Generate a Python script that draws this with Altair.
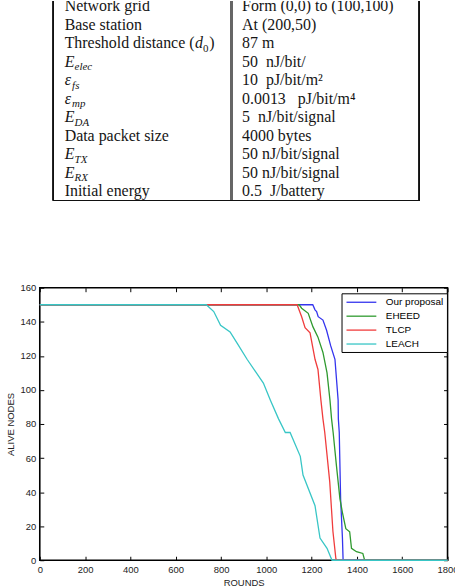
import altair as alt
import pandas as pd

# ---------------- table data ----------------
row_ids = list(range(11))
param_text = ["Network grid", "Base station", "Threshold distance (", "", "", "", "",
              "Data packet size", "", "", "Initial energy"]
param_symbol = ["", "", "", "E", "ε", "ε", "E", "", "E", "E", ""]
param_sub = ["", "", "", "elec", "fs", "mp", "DA", "", "TX", "RX", ""]
param_value = ["Form (0,0) to (100,100)", "At (200,50)", "87 m", "50\u00a0 nJ/bit/",
               "10\u00a0 pJ/bit/m\u00b2", "0.0013\u00a0\u00a0 pJ/bit/m\u2074",
               "5\u00a0 nJ/bit/signal", "4000 bytes", "50 nJ/bit/signal",
               "50 nJ/bit/signal", "0.5\u00a0 J/battery"]

# ---------------- chart data ----------------
series_names = ["Our proposal", "EHEED", "TLCP", "LEACH"]
series_colors = ["#3434ee", "#2f9a2f", "#f03c3c", "#38c6c6"]

ours_rounds = [0, 1205, 1215, 1222, 1229, 1250, 1266, 1284, 1303, 1310, 1317, 1318, 1322, 1328, 1336, 1339, 1800]
ours_alive = [150, 150, 147, 146, 143, 141, 135, 126, 118, 106, 94, 83, 75, 36, 13, 0, 0]

eheed_rounds = [0, 1145, 1156, 1185, 1206, 1228, 1250, 1268, 1281, 1288, 1295, 1310, 1325, 1336, 1351, 1368, 1376, 1398, 1426, 1434, 1800]
eheed_alive = [150, 150, 148, 145, 137, 131, 122, 110, 94, 83, 75, 55, 36, 28, 18.5, 16.7, 7, 5, 4, 0, 0]

tlcp_rounds = [0, 1136, 1156, 1171, 1193, 1215, 1228, 1241, 1250, 1258, 1280, 1294, 1307, 1312, 1800]
tlcp_alive = [150, 150, 143, 136.5, 133.5, 118, 112, 94, 83, 75, 46, 17, 1, 0, 0]

leach_rounds = [0, 735, 768, 798, 840, 871, 915, 987, 1018, 1054, 1084, 1105, 1150, 1162, 1215, 1237, 1268, 1290, 1800]
leach_alive = [150, 150, 146, 138, 134, 127.5, 118, 104, 94, 83, 75, 75, 61, 50, 32, 13, 7, 0, 0]

x_ticks = [0, 200, 400, 600, 800, 1000, 1200, 1400, 1600, 1800]
y_ticks = [0, 20, 40, 60, 80, 100, 120, 140, 160]

# ---------------- table panel ----------------
tdf = pd.DataFrame({"row": row_ids, "param": param_text, "symbol": param_symbol,
                    "sub": param_sub, "value": param_value})

serif = "Liberation Serif"
ink = "#151515"
yT = alt.Y("row:O", scale=alt.Scale(type="point", range=[10, 196], padding=0), axis=None)
base_t = alt.Chart(tdf)

def txt(**kw):
    opts = dict(align="left", baseline="alphabetic", font=serif, fontSize=16, color=ink, clip=True)
    opts.update(kw)
    return opts

# table coordinates are relative to the plot origin of the chart below
LX = 25
VX = 203.4

plain = base_t.transform_filter(alt.datum.param != "").mark_text(**txt()).encode(
    x=alt.value(LX), y=yT, text="param:N")
sym = base_t.transform_filter(alt.datum.symbol != "").mark_text(**txt(fontStyle="italic")).encode(
    x=alt.value(LX), y=yT, text="symbol:N")
subE = base_t.transform_filter(alt.datum.symbol == "E").mark_text(
    **txt(fontStyle="italic", fontSize=11, dx=10, dy=3.5)).encode(x=alt.value(LX), y=yT, text="sub:N")
subEps = base_t.transform_filter(alt.datum.symbol == "ε").mark_text(
    **txt(fontStyle="italic", fontSize=11, dx=7.5, dy=3.5)).encode(x=alt.value(LX), y=yT, text="sub:N")
thr = base_t.transform_filter(alt.datum.row == 2)
d_ital = thr.mark_text(**txt(fontStyle="italic", text="d", dx=131)).encode(x=alt.value(LX), y=yT)
d_sub = thr.mark_text(**txt(fontSize=11, text="0", dx=139, dy=3.5)).encode(x=alt.value(LX), y=yT)
d_close = thr.mark_text(**txt(text=")", dx=145.5)).encode(x=alt.value(LX), y=yT)
vals = base_t.mark_text(**txt()).encode(x=alt.value(VX), y=yT, text="value:N")

rule_l = alt.Chart(tdf).mark_rule(color="#111", strokeWidth=1.2).encode(
    x=alt.value(13.7), y=alt.value(0), y2=alt.value(200.5))
rule_m = alt.Chart(tdf).mark_rule(color="#666", strokeWidth=2).encode(
    x=alt.value(192.7), y=alt.value(0), y2=alt.value(200.5))
rule_r = alt.Chart(tdf).mark_rule(color="#111", strokeWidth=1.2).encode(
    x=alt.value(381.7), y=alt.value(0), y2=alt.value(200.5))
rule_b = alt.Chart(tdf).mark_rule(color="#111", strokeWidth=1.2).encode(
    x=alt.value(13.7), x2=alt.value(381.7), y=alt.value(200.5))

table = alt.layer(rule_l, rule_m, rule_r, rule_b, plain, sym, subE, subEps,
                  d_ital, d_sub, d_close, vals).properties(
    width=400, height=202, view=alt.ViewBackground(strokeWidth=0))

# ---------------- chart panel ----------------
rows = []
for name, rs, al in [(series_names[0], ours_rounds, ours_alive),
                     (series_names[1], eheed_rounds, eheed_alive),
                     (series_names[2], tlcp_rounds, tlcp_alive),
                     (series_names[3], leach_rounds, leach_alive)]:
    for i, (r, a) in enumerate(zip(rs, al)):
        rows.append({"series": name, "rounds": r, "alive": a, "idx": i})
df = pd.DataFrame(rows)

sans = "Liberation Sans"
lab = "#222"
xs = alt.Scale(domain=[0, 1800], nice=False)
ys = alt.Scale(domain=[0, 160], nice=False)

legend = alt.Legend(title=None, orient="none", legendX=303.4, legendY=5.6,
                    symbolType="M-3,0H3", symbolSize=100, symbolStrokeWidth=1.3,
                    symbolOffset=11, labelOffset=18.5,
                    labelFont=sans, labelFontSize=10, labelColor="black",
                    padding=3, rowPadding=3, strokeColor="black", fillColor="white")
color = alt.Color("series:N", scale=alt.Scale(domain=series_names, range=series_colors), legend=legend)

x_main = alt.X("rounds:Q", scale=xs, axis=alt.Axis(values=x_ticks, ticks=False, domain=False, grid=False,
               format="d", labelFlush=False, labelPadding=4, labelFont=sans, labelFontSize=9.5,
               labelColor=lab, title="ROUNDS", titleFont=sans, titleFontSize=9.5,
               titleFontWeight="normal", titleColor=lab, titlePadding=4, orient="bottom"))
y_main = alt.Y("alive:Q", scale=ys, axis=alt.Axis(values=y_ticks, ticks=False, domain=False, grid=False,
               format="d", labelPadding=4, labelFont=sans, labelFontSize=9.5, labelColor=lab,
               title="ALIVE NODES", titleFont=sans, titleFontSize=9.5, titleFontWeight="normal",
               titleColor=lab, titlePadding=5, orient="left"))

layers = []
for k, name in enumerate(series_names):
    if k == 0:
        xe, ye = x_main, y_main
    else:
        xe = alt.X("rounds:Q", scale=xs, axis=None)
        ye = alt.Y("alive:Q", scale=ys, axis=None)
    layers.append(alt.Chart(df).transform_filter(alt.datum.series == name)
                  .mark_line(strokeWidth=1.3).encode(x=xe, y=ye, color=color, order="idx:Q"))

def tick_axis(orient, vals_):
    return alt.Axis(values=vals_, orient=orient, offset=-4, tickSize=4, tickColor="black",
                    tickWidth=1, labels=False, domain=False, grid=False, title="")

ticks_a = alt.Chart(df).mark_point(opacity=0).encode(
    x=alt.X("rounds:Q", scale=xs, axis=tick_axis("top", x_ticks)),
    y=alt.Y("alive:Q", scale=ys, axis=tick_axis("right", y_ticks)))
ticks_b = alt.Chart(df).mark_point(opacity=0).encode(
    x=alt.X("rounds:Q", scale=xs, axis=tick_axis("bottom", x_ticks)),
    y=alt.Y("alive:Q", scale=ys, axis=tick_axis("left", y_ticks)))

chart_panel = alt.layer(*layers, ticks_a, ticks_b).resolve_axis(
    x="independent", y="independent").properties(
    width=410, height=274, view=alt.ViewBackground(stroke="black", strokeWidth=1.6))

chart = alt.vconcat(table, chart_panel, spacing=80.2).resolve_legend(
    color="independent").properties(
    padding={"left": 4, "top": -1.5, "right": -4.5, "bottom": -2},
    background="white")

chart.save("out.html", embed_options={"renderer": "svg", "actions": False})
